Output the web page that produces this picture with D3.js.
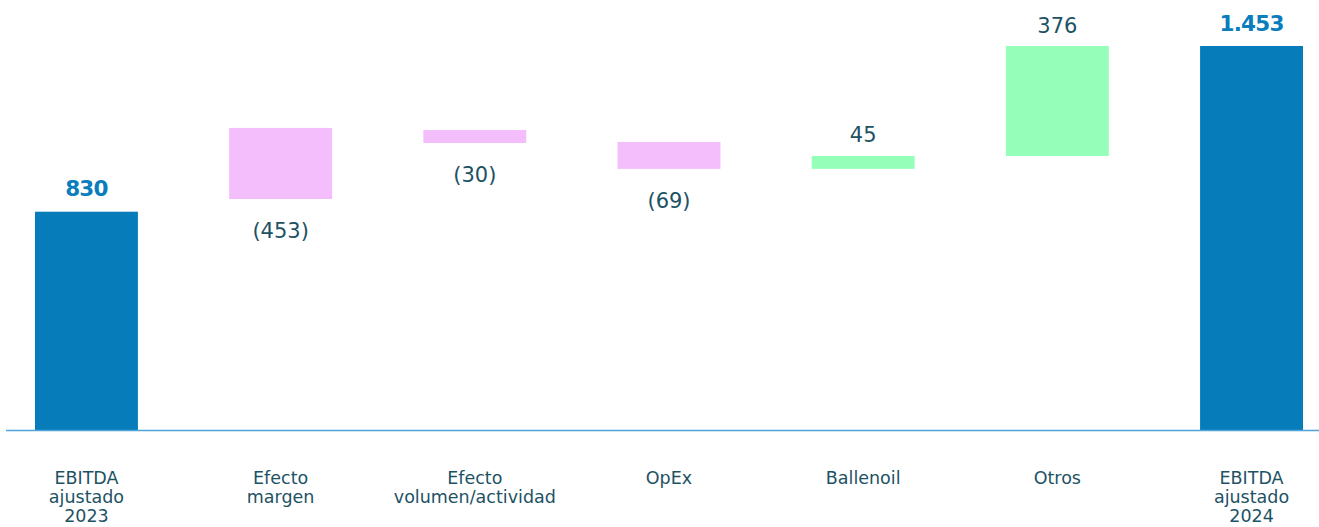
<!doctype html>
<html>
<head>
<meta charset="utf-8"/>
<style>
  html, body { margin: 0; padding: 0; background: #fff; }
  svg { display: block; }
  .val { font-family: "DejaVu Sans", sans-serif; font-size: 21px; fill: #1d5264; }
  .tot { font-family: "DejaVu Sans", sans-serif; font-size: 21.5px; font-weight: bold; fill: #0a7dbd; letter-spacing: -0.8px; }
  .cat { font-family: "DejaVu Sans", sans-serif; font-size: 17.5px; fill: #1d5264; }
</style>
<script src="https://d3js.org/d3.v7.min.js"></script>
</head>
<body>
<svg width="1319" height="527"></svg>
<script>
  // categories (line breaks as drawn)
  var categories = [
    ["EBITDA", "ajustado", "2023"],
    ["Efecto", "margen"],
    ["Efecto", "volumen/actividad"],
    ["OpEx"],
    ["Ballenoil"],
    ["Otros"],
    ["EBITDA", "ajustado", "2024"]
  ];
  // value labels shown on the chart
  var valueLabels = ["830", "(453)", "(30)", "(69)", "45", "376", "1.453"];
  // kind of each bar: total, neg, pos
  var kinds = ["total", "neg", "neg", "neg", "pos", "pos", "total"];
  // floating bar extents
  var barLow  = [0, 874, 1086, 988, 988, 1037, 0];
  var barHigh = [826, 1143, 1135, 1090, 1037, 1453, 1453];

  var colors = { total: "#067cba", neg: "#f4befd", pos: "#95ffba" };

  var svg = d3.select("svg");
  var baseY = 430;

  var x = d3.scaleBand()
      .domain(d3.range(categories.length))
      .range([35, 1303])
      .paddingInner(0.47)
      .paddingOuter(0);

  var y = d3.scaleLinear()
      .domain([0, 1453])
      .range([baseY, 46]);

  var bars = d3.range(categories.length).map(function(i) {
    return { i: i, lo: barLow[i], hi: barHigh[i], kind: kinds[i], label: valueLabels[i], cat: categories[i] };
  });

  svg.append("g").selectAll("rect").data(bars).enter().append("rect")
      .attr("x", function(d) { return x(d.i); })
      .attr("width", x.bandwidth())
      .attr("y", function(d) { return y(d.hi); })
      .attr("height", function(d) { return y(d.lo) - y(d.hi); })
      .attr("fill", function(d) { return colors[d.kind]; });

  // baseline
  svg.append("line")
      .attr("x1", 6).attr("x2", 1319)
      .attr("y1", baseY + 0.5).attr("y2", baseY + 0.5)
      .attr("stroke", "#4fa3d8")
      .attr("stroke-width", 1.5);

  // value labels
  svg.append("g").selectAll("text").data(bars).enter().append("text")
      .attr("class", function(d) { return d.kind === "total" ? "tot" : "val"; })
      .attr("text-anchor", "middle")
      .attr("x", function(d) { return x(d.i) + x.bandwidth() / 2; })
      .attr("y", function(d) {
        if (d.kind === "neg") return y(d.lo) + 39;
        if (d.kind === "total") return y(d.hi) - 15.5;
        return y(d.hi) - 13.5;
      })
      .text(function(d) { return d.label; });

  // category labels
  var cat = svg.append("g").selectAll("text").data(bars).enter().append("text")
      .attr("class", "cat")
      .attr("text-anchor", "middle")
      .attr("x", function(d) { return x(d.i) + x.bandwidth() / 2; })
      .attr("y", 484);
  cat.selectAll("tspan").data(function(d) { return d.cat.map(function(t) { return { t: t, x: x(d.i) + x.bandwidth() / 2 }; }); })
    .enter().append("tspan")
      .attr("x", function(d) { return d.x; })
      .attr("dy", function(d, j) { return j === 0 ? 0 : 19; })
      .text(function(d) { return d.t; });
</script>
</body>
</html>
